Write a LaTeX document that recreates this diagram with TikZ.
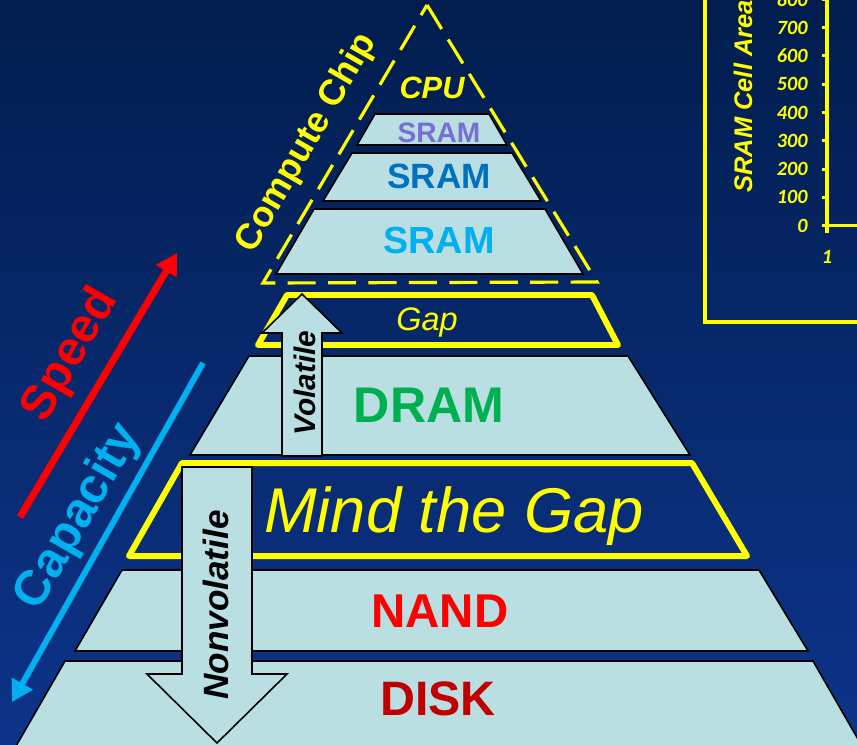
\documentclass[tikz,border=0pt]{standalone}
\usepackage{fontspec}
\setmainfont{Liberation Sans}
\newfontfamily\chartfont{Carlito}
\usetikzlibrary{arrows.meta}
\definecolor{bg_top}{RGB}{1, 29, 78}
\definecolor{bg_bottom}{RGB}{13, 52, 138}
\definecolor{layer_blue}{RGB}{185, 223, 226}
\definecolor{chip_yellow}{RGB}{255, 255, 0}
\definecolor{sram_violet}{RGB}{118, 112, 212}
\definecolor{sram_blue}{RGB}{0, 112, 192}
\definecolor{sram_cyan}{RGB}{0, 176, 240}
\definecolor{dram_green}{RGB}{0, 176, 80}
\definecolor{nand_red}{RGB}{255, 0, 0}
\definecolor{disk_red}{RGB}{192, 0, 0}
\tikzstyle{layer}=[fill=layer_blue,draw=black,line width=0.9pt]
\tikzstyle{gapband}=[draw=chip_yellow,line width=3.4pt,line join=round]
\tikzstyle{chipline}=[draw=chip_yellow,line width=1.8pt,dash pattern=on 16pt off 7pt]
\tikzstyle{blockarrow}=[fill=layer_blue,draw=black,line width=0.9pt]
\tikzstyle{chartline}=[draw=chip_yellow,line width=1.8pt]
\tikzstyle{tiertext}=[inner sep=0pt,anchor=base]
\tikzstyle{ticktext}=[inner sep=0pt,anchor=east,text=chip_yellow,
  font=\chartfont\bfseries\itshape\fontsize{11.5pt}{13pt}\selectfont]
\tikzstyle{none}=[]
\newcommand{\fsz}[1]{\fontsize{#1}{#1}\selectfont}

\begin{document}
\begin{tikzpicture}
            \useasboundingbox (0, 0) rectangle (17.14, -14.88);
            \clip (0, 0) rectangle (17.14, -14.88);
            \shade [top color=bg_top, bottom color=bg_bottom] (-0.1, 0.1) rectangle (17.24, -14.98);
            % chart in the corner
            \draw [style=chartline] (14.10, 0.3) rectangle (17.5, -6.44);
            \node [style=none] (0) at (16.54, 0.3) {};
            \node [style=none] (1) at (16.54, -4.514) {};
            \node [style=none] (2) at (17.5, -4.514) {};
            \node [style=none] (3) at (16.54, -4.65) {};
            \draw [style=chartline] (0.center) to (1.center) to (2.center);
            \draw [style=chartline] (1.center) to (3.center);
            \foreach \v in {0,100,...,800} {
                \pgfmathsetmacro\ty{-4.514+0.005668*\v}
                \draw [style=chartline] (16.44, \ty) -- (16.56, \ty);
                \node [style=ticktext] (t\v) at (16.16, \ty) {\v};
            }
            \node [style=ticktext, anchor=center] (4) at (16.54, -5.14) {1};
            \node [style=none, inner sep=0pt, anchor=west, rotate=90, text=chip_yellow,
              font=\bfseries\itshape\fsz{14.5pt}] (5) at (14.86, -3.86) {SRAM Cell Area};
            % compute chip
            \draw [style=chipline] (8.54, -0.10) -- (11.94, -5.64) -- (5.26, -5.66) -- cycle;
            \filldraw [style=layer] (7.50, -2.28) -- (9.78, -2.28) -- (10.14, -2.90) -- (7.14, -2.90) -- cycle;
            \filldraw [style=layer] (7.04, -3.06) -- (10.24, -3.06) -- (10.82, -4.02) -- (6.46, -4.02) -- cycle;
            \filldraw [style=layer] (6.28, -4.18) -- (10.90, -4.18) -- (11.66, -5.48) -- (5.52, -5.48) -- cycle;
            \node [style=tiertext, text=chip_yellow, font=\bfseries\itshape\fsz{17.5pt}] (6) at (8.64, -1.96) {CPU};
            \node [style=tiertext, text=sram_violet, font=\bfseries\fsz{16pt}] (7) at (8.78, -2.84) {SRAM};
            \node [style=tiertext, text=sram_blue, font=\bfseries\fsz{20pt}] (8) at (8.78, -3.76) {SRAM};
            \node [style=tiertext, text=sram_cyan, font=\bfseries\fsz{21.5pt}] (9) at (8.78, -5.06) {SRAM};
            \node [style=none, inner sep=0pt, rotate=60, text=chip_yellow, font=\bfseries\fsz{20.5pt}] (10) at (6.14, -2.86) {Compute Chip};
            % gap and dram
            \draw [style=gapband] (5.74, -5.90) -- (11.84, -5.90) -- (12.36, -6.90) -- (5.16, -6.90) -- cycle;
            \node [style=tiertext, text=chip_yellow, font=\itshape\fsz{18.5pt}] (11) at (8.54, -6.60) {Gap};
            \filldraw [style=layer] (4.98, -7.12) -- (12.56, -7.12) -- (13.80, -9.10) -- (3.80, -9.10) -- cycle;
            \node [style=tiertext, text=dram_green, font=\bfseries\fsz{28.5pt}] (12) at (8.58, -8.44) {DRAM};
            \filldraw [style=blockarrow] (5.64, -9.12) -- (5.64, -6.66) -- (5.24, -6.66) -- (6.04, -5.88)
              -- (6.84, -6.66) -- (6.44, -6.66) -- (6.44, -9.12) -- cycle;
            \node [style=tiertext, rotate=90, font=\bfseries\itshape\fsz{17pt}] (13) at (6.30, -7.66) {Volatile};
            % mind the gap, nand and disk
            \draw [style=gapband] (3.64, -9.26) -- (13.84, -9.26) -- (14.94, -11.12) -- (2.58, -11.12) -- cycle;
            \node [style=tiertext, text=chip_yellow, font=\itshape\fsz{36pt}] (14) at (9.08, -10.64) {Mind the Gap};
            \filldraw [style=layer] (2.44, -11.40) -- (15.18, -11.40) -- (16.16, -13.02) -- (1.50, -13.02) -- cycle;
            \node [style=tiertext, text=nand_red, font=\bfseries\fsz{27pt}] (15) at (8.80, -12.54) {NAND};
            \filldraw [style=layer] (1.30, -13.22) -- (16.26, -13.22) -- (17.40, -15.20) -- (0.16, -15.20) -- cycle;
            \node [style=tiertext, text=disk_red, font=\bfseries\fsz{27.5pt}] (16) at (8.76, -14.30) {DISK};
            \filldraw [style=blockarrow] (3.64, -9.34) -- (3.64, -13.48) -- (2.94, -13.48) -- (4.34, -14.86)
              -- (5.74, -13.48) -- (5.04, -13.48) -- (5.04, -9.34) -- cycle;
            \node [style=tiertext, rotate=90, font=\bfseries\itshape\fsz{20pt}] (17) at (4.56, -12.10) {Nonvolatile};
            % speed and capacity
            \node [style=none] (18) at (0.40, -10.34) {};
            \node [style=none] (19) at (3.54, -5.06) {};
            \node [style=none] (20) at (4.06, -7.26) {};
            \node [style=none] (21) at (0.24, -14.04) {};
            \draw [draw=nand_red, line width=4pt, -{Triangle[length=12pt, width=13pt]}] (18.center) to (19.center);
            \draw [draw=sram_cyan, line width=3.4pt, -{Triangle[length=12pt, width=13pt]}] (20.center) to (21.center);
            \node [style=none, inner sep=0pt, rotate=60, text=nand_red, font=\bfseries\fsz{27.5pt}] (22) at (1.42, -7.10) {Speed};
            \node [style=none, inner sep=0pt, rotate=60, text=sram_cyan, font=\bfseries\fsz{28pt}] (23) at (1.58, -10.34) {Capacity};
    \end{tikzpicture}
\end{document}
